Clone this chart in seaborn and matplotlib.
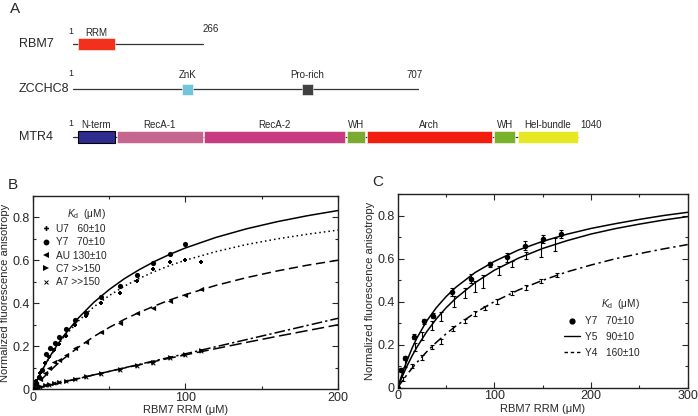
import matplotlib
matplotlib.use('Agg')
import matplotlib.pyplot as plt
from matplotlib.lines import Line2D
from matplotlib.ticker import MultipleLocator, FuncFormatter
import seaborn as sns

sns.set_style('ticks')
plt.rcParams['font.family'] = ['Liberation Sans', 'DejaVu Sans']
plt.rcParams['mathtext.fontset'] = 'custom'
plt.rcParams['mathtext.rm'] = 'Liberation Sans'
plt.rcParams['mathtext.it'] = 'Liberation Sans:italic'

# =====================================================
# DATA - panel A (domain maps, residue numbers)
# =====================================================
rbm7_len = 266
rbm7_names = ['RRM']
rbm7_start = [10]
rbm7_end = [86]
rbm7_colors = ['#F2301C']

zcchc8_len = 707
zcchc8_names = ['ZnK', 'Pro-rich']
zcchc8_start = [223, 469]
zcchc8_end = [246, 492]
zcchc8_colors = ['#72C4DA', '#404040']

mtr4_len = 1040
mtr4_names = ['N-term', 'RecA-1', 'RecA-2', 'WH', 'Arch', 'WH', 'Hel-bundle']
mtr4_start = [10, 90, 268, 561, 602, 863, 912]
mtr4_end = [86, 266, 557, 598, 858, 906, 1035]
mtr4_colors = ['#2E2C8E', '#C4668F', '#C83B7E', '#7AAA30', '#F11E10', '#78B22A', '#E6E823']

# =====================================================
# DATA - panel B (RBM7 RRM titration, 5 RNAs)
# =====================================================
b_x = [0, 2, 5, 8, 11, 14, 17, 22, 28, 35, 45, 57, 68, 79, 90, 100, 110]
u7_y = [0, 0.04, 0.075, 0.12, 0.15, 0.185, 0.21, 0.25, 0.30, 0.34, 0.40, 0.45, 0.505, 0.56, 0.59, 0.60, 0.59]
au_y = [0, 0.02, 0.05, 0.075, 0.10, 0.125, 0.135, 0.16, 0.19, 0.22, 0.265, 0.31, 0.355, 0.38, 0.41, 0.44, 0.465]
c7_y = [0, 0.005, 0.015, 0.02, 0.025, 0.03, 0.035, 0.04, 0.05, 0.06, 0.075, 0.095, 0.115, 0.125, 0.15, 0.165, 0.185]
a7_y = [0, 0.005, 0.012, 0.018, 0.022, 0.028, 0.032, 0.038, 0.048, 0.058, 0.072, 0.092, 0.11, 0.122, 0.145, 0.16, 0.18]
y7b_x = [0, 2, 4, 6, 8.5, 11.5, 14.5, 17.5, 22, 28, 35, 45, 57, 68, 79, 90, 100]
y7b_y = [0, 0.03, 0.055, 0.09, 0.165, 0.19, 0.215, 0.245, 0.28, 0.32, 0.355, 0.43, 0.48, 0.53, 0.585, 0.63, 0.675]

# fitted curves
bfit_x = [0, 2, 5, 10, 15, 20, 30, 40, 50, 60, 70, 80, 90, 100, 120, 140, 160, 180, 200]
y7_fit = [0, 0.031, 0.073, 0.138, 0.195, 0.246, 0.332, 0.404, 0.463, 0.514, 0.557, 0.595, 0.628, 0.657, 0.706, 0.746, 0.779, 0.807, 0.831]
u7_fit = [0, 0.031, 0.073, 0.136, 0.191, 0.239, 0.318, 0.383, 0.435, 0.479, 0.516, 0.548, 0.576, 0.600, 0.640, 0.673, 0.699, 0.721, 0.740]
au_fit = [0, 0.016, 0.040, 0.076, 0.110, 0.141, 0.196, 0.245, 0.287, 0.325, 0.358, 0.388, 0.416, 0.440, 0.483, 0.519, 0.550, 0.577, 0.600]
c7_fit = [0, 0.004, 0.009, 0.017, 0.025, 0.034, 0.050, 0.067, 0.083, 0.100, 0.116, 0.133, 0.149, 0.165, 0.198, 0.231, 0.264, 0.297, 0.330]
a7_fit = [0, 0.003, 0.009, 0.017, 0.025, 0.034, 0.050, 0.067, 0.083, 0.099, 0.114, 0.130, 0.145, 0.160, 0.189, 0.218, 0.246, 0.273, 0.300]

# =====================================================
# DATA - panel C (Y7 / Y5 / Y4)
# =====================================================
y7c_x = [0, 3, 7.5, 17, 27, 36, 56.5, 76, 95, 113, 132, 150, 169]
y7c_y = [0, 0.083, 0.137, 0.236, 0.309, 0.335, 0.446, 0.507, 0.574, 0.605, 0.66, 0.69, 0.715]
y7c_err = [0, 0.01, 0.01, 0.012, 0.012, 0.012, 0.018, 0.02, 0.012, 0.022, 0.022, 0.018, 0.02]
y5_x = [8, 18, 25, 35, 45, 58, 70, 80, 88, 105, 118, 133, 148, 163]
y5_y = [0.115, 0.19, 0.24, 0.29, 0.33, 0.40, 0.44, 0.47, 0.495, 0.545, 0.575, 0.615, 0.64, 0.665]
y5_err = [0.02, 0.02, 0.02, 0.02, 0.02, 0.025, 0.025, 0.025, 0.03, 0.02, 0.015, 0.015, 0.035, 0.03]
y4_x = [5, 15, 25, 35, 45, 57, 70, 80, 90, 103, 118, 133, 148, 165]
y4_y = [0.04, 0.10, 0.14, 0.19, 0.215, 0.275, 0.31, 0.345, 0.37, 0.40, 0.44, 0.465, 0.495, 0.525]
y4_err = [0.01, 0.01, 0.01, 0.01, 0.01, 0.01, 0.01, 0.012, 0.01, 0.01, 0.01, 0.012, 0.01, 0.01]

cfit_x = [0, 3, 6, 10, 15, 20, 30, 40, 50, 60, 80, 100, 125, 150, 175, 200, 225, 250, 275, 300]
y7c_fit = [0, 0.042, 0.082, 0.13, 0.185, 0.232, 0.31, 0.372, 0.423, 0.466, 0.535, 0.587, 0.64, 0.68, 0.713, 0.74, 0.762, 0.782, 0.80, 0.815]
y5_fit = [0, 0.034, 0.065, 0.104, 0.149, 0.189, 0.26, 0.32, 0.371, 0.415, 0.488, 0.546, 0.602, 0.647, 0.683, 0.714, 0.739, 0.760, 0.779, 0.795]
y4_fit = [0, 0.020, 0.039, 0.063, 0.091, 0.118, 0.167, 0.211, 0.250, 0.286, 0.348, 0.40, 0.454, 0.499, 0.538, 0.570, 0.599, 0.623, 0.645, 0.665]

# =====================================================
# FIGURE
# =====================================================
W, H = 698, 416
fig = plt.figure(figsize=(W / 100, H / 100), dpi=100)

# ---------------- panel A ----------------
PX0, PXR = 73, 0.488          # pixel of residue 0, pixels per residue
axA = fig.add_axes([0, 1 - 150 / H, 1, 150 / H])
axA.set_xlim(-PX0 / PXR, (W - PX0) / PXR)
axA.set_ylim(150, 0)
axA.axis('off')


def res(px):
    return (px - PX0) / PXR


def draw_protein(name, length, names, starts, ends, colors, yrow, h, label_y,
                 edge=None, line_end=None):
    line_end = length if line_end is None else line_end
    axA.plot([0, line_end], [yrow, yrow], color='#333333', lw=0.9, zorder=1)
    widths = [e - s for s, e in zip(starts, ends)]
    for s, w_, c, n in zip(starts, widths, colors, names):
        ec = 'black' if (edge and n == edge) else 'white'
        axA.barh(yrow, w_, left=s, height=h, color=c, edgecolor=ec,
                 linewidth=0.8 if ec == 'black' else 0.4, zorder=2)
        axA.text(s + w_ / 2, label_y, n, ha='center', va='center', fontsize=7)
    axA.text(res(19), yrow, name, ha='left', va='center', fontsize=9)
    axA.text(-4, label_y - 2, '1', ha='center', va='center', fontsize=6.5)


draw_protein('RBM7', rbm7_len, rbm7_names, rbm7_start, rbm7_end, rbm7_colors,
             44, 12, 33)
axA.text(rbm7_len, 29, '266', ha='left', va='center', fontsize=7)
draw_protein('ZCCHC8', zcchc8_len, zcchc8_names, zcchc8_start, zcchc8_end,
             zcchc8_colors, 89, 11, 75)
axA.text(zcchc8_len - 8, 75, '707', ha='center', va='center', fontsize=7)
draw_protein('MTR4', mtr4_len, mtr4_names, mtr4_start, mtr4_end, mtr4_colors,
             137, 12, 125, edge='N-term', line_end=mtr4_end[-1])
axA.text(mtr4_end[-1] + 4, 125, str(mtr4_len), ha='left', va='center', fontsize=7)


def style_axes(ax, xmax, xmajor):
    ax.set_xlim(0, xmax)
    ax.set_ylim(0, 0.9)
    ax.xaxis.set_major_locator(MultipleLocator(xmajor))
    ax.xaxis.set_minor_locator(MultipleLocator(xmajor / 2))
    ax.yaxis.set_major_locator(MultipleLocator(0.2))
    ax.yaxis.set_minor_locator(MultipleLocator(0.1))
    ax.yaxis.set_major_formatter(FuncFormatter(lambda v, _: '0' if abs(v) < 1e-9 else f'{v:.1f}'))
    ax.set_yticks([0, 0.2, 0.4, 0.6, 0.8])
    ax.tick_params(which='both', direction='in', top=True, right=True, width=0.8)
    ax.tick_params(which='major', length=4, labelsize=9, pad=2)
    ax.tick_params(which='minor', length=2)
    for sp in ax.spines.values():
        sp.set_linewidth(1.0)
        sp.set_color('#222222')
    ax.set_xlabel('RBM7 RRM (μM)', fontsize=8, labelpad=1)
    ax.set_ylabel('Normalized fluorescence anisotropy', fontsize=8, labelpad=2)


# ---------------- panel B ----------------
axB = fig.add_axes([32.7 / W, 1 - 389.3 / H, (338 - 32.7) / W, (389.3 - 195.7) / H])
sns.lineplot(x=bfit_x, y=y7_fit, ax=axB, color='black', lw=1.1, linestyle='-')
sns.lineplot(x=bfit_x, y=u7_fit, ax=axB, color='black', lw=1.1, linestyle=(0, (1, 2)))
sns.lineplot(x=bfit_x, y=au_fit, ax=axB, color='black', lw=1.1, linestyle=(0, (6, 3)))
sns.lineplot(x=bfit_x, y=c7_fit, ax=axB, color='black', lw=1.1, linestyle=(0, (7, 2, 1.5, 2)))
sns.lineplot(x=bfit_x, y=a7_fit, ax=axB, color='black', lw=1.1, linestyle=(0, (8, 3)))
sns.scatterplot(x=b_x, y=u7_y, ax=axB, marker='P', s=10, color='black', linewidth=0, zorder=3)
sns.scatterplot(x=y7b_x, y=y7b_y, ax=axB, marker='o', s=14, color='black', linewidth=0, zorder=3)
sns.scatterplot(x=b_x, y=au_y, ax=axB, marker='<', s=14, color='black', linewidth=0, zorder=3)
sns.scatterplot(x=b_x, y=c7_y, ax=axB, marker='>', s=12, color='black', linewidth=0, zorder=3)
sns.scatterplot(x=b_x, y=a7_y, ax=axB, marker='x', s=7, color='black', linewidth=0.7, zorder=3)
style_axes(axB, 200, 100)

b_handles = [Line2D([], [], ls='none', marker='P', ms=3.5, color='black', mew=0),
             Line2D([], [], ls='none', marker='o', ms=4.2, color='black', mew=0),
             Line2D([], [], ls='none', marker='<', ms=4.2, color='black', mew=0),
             Line2D([], [], ls='none', marker='>', ms=4.0, color='black', mew=0),
             Line2D([], [], ls='none', marker='x', ms=2.8, color='black', mew=0.7)]
b_labels = ['U7   60±10', 'Y7   70±10', 'AU 130±10', 'C7 >>150', 'A7 >>150']
legB = axB.legend(b_handles, b_labels, title=r'$\it{K}_\mathrm{d}$  (μM)', loc='upper left',
                  bbox_to_anchor=(0.015, 0.97), frameon=False, fontsize=7.3,
                  title_fontsize=7.3, handlelength=0.8, handletextpad=0.5,
                  labelspacing=0.33, borderpad=0, alignment='right')

# ---------------- panel C ----------------
axC = fig.add_axes([397.7 / W, 1 - 387.7 / H, 290 / W, 193.7 / H])
sns.lineplot(x=cfit_x, y=y7c_fit, ax=axC, color='black', lw=1.1, linestyle='-')
sns.lineplot(x=cfit_x, y=y5_fit, ax=axC, color='black', lw=1.1, linestyle='-')
sns.lineplot(x=cfit_x, y=y4_fit, ax=axC, color='black', lw=1.1, linestyle=(0, (6, 2.5, 1.5, 2.5)))
axC.errorbar(y5_x, y5_y, yerr=y5_err, fmt='none', ecolor='black', elinewidth=0.8, capsize=1.5, capthick=0.8)
axC.errorbar(y4_x, y4_y, yerr=y4_err, fmt='none', ecolor='black', elinewidth=0.8, capsize=1.2, capthick=0.8)
axC.errorbar(y7c_x, y7c_y, yerr=y7c_err, fmt='none', ecolor='black', elinewidth=0.8, capsize=1.5, capthick=0.8)
sns.scatterplot(x=y7c_x, y=y7c_y, ax=axC, marker='o', s=16, color='black', linewidth=0, zorder=3)
style_axes(axC, 300, 100)

c_handles = [Line2D([], [], ls='none', marker='o', ms=4.5, color='black', mew=0),
             Line2D([], [], ls='-', lw=1.0, color='black'),
             Line2D([], [], ls=(0, (2.5, 2)), lw=1.0, color='black')]
c_labels = ['Y7   70±10', 'Y5   90±10', 'Y4   160±10']
legC = axC.legend(c_handles, c_labels, title=r'$\it{K}_\mathrm{d}$  (μM)', loc='upper left',
                  bbox_to_anchor=(0.555, 0.495), frameon=False, fontsize=7.3,
                  title_fontsize=7.3, handlelength=1.6, handletextpad=0.5,
                  labelspacing=0.55, borderpad=0, alignment='right')

# panel letters
fig.text(10 / W, 1 - 9 / H, 'A', fontsize=11, ha='left', va='center')
fig.text(8 / W, 1 - 185 / H, 'B', fontsize=11, ha='left', va='center')
fig.text(372 / W, 1 - 182 / H, 'C', fontsize=11, ha='left', va='center')

fig.savefig('out.png', dpi=100)
